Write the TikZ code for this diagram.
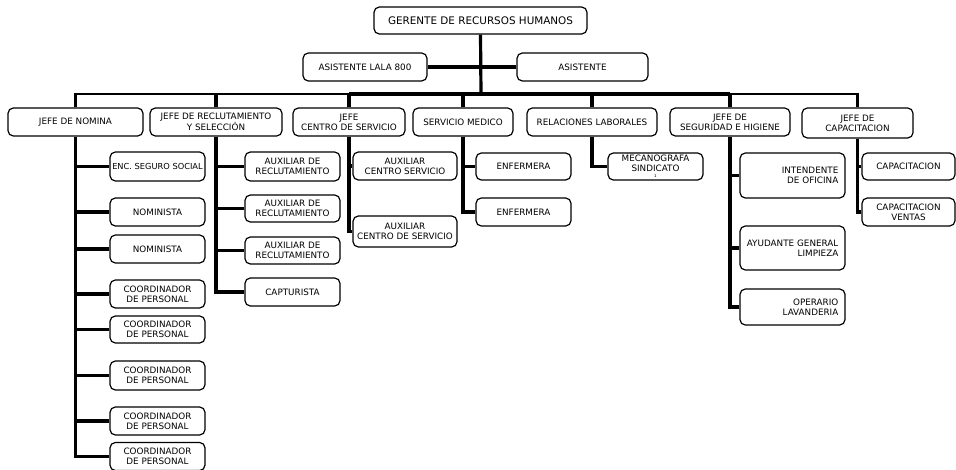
\documentclass[tikz,border=0pt]{standalone}
\usepackage{fontspec}
\setmainfont{DejaVu Sans}

\tikzset{every picture/.style={line width=0.75pt}}
\tikzset{
  org/.style 2 args={draw, rounded corners=4pt, fill=white, line width=0.9pt, align=center, inner sep=1pt,
    minimum width=#1*0.75pt, minimum height=#2*0.75pt, font=\fontsize{6.6}{7.4}\selectfont},
  orgr/.style 2 args={org={#1}{#2}, align=right, text width=#1*0.75pt-10pt},
  wire/.style={line width=2.4pt},
  thinwire/.style={line width=1.6pt}
}

\begin{document}
\begin{tikzpicture}[x=0.75pt,y=0.75pt,yscale=-1,xscale=1]
\useasboundingbox (0,0) rectangle (956,470);

%Top
\node [org={213}{27}, font=\fontsize{7.8}{9}\selectfont] (gerente) at (480.5,20.5) {GERENTE DE RECURSOS HUMANOS};
\node [org={124}{28}] (lala) at (365,67) {ASISTENTE LALA 800};
\node [org={131}{28}] (asis) at (582.5,67) {ASISTENTE};
\coordinate (bus) at (481,94);

%Jefes
\node [org={135}{28}] (nomina) at (75.5,122) {JEFE DE NOMINA};
\node [org={132}{28}] (reclut) at (216,122) {JEFE DE RECLUTAMIENTO\\Y SELECCIÓN};
\node [org={112}{28}] (centro) at (349,122) {JEFE\\CENTRO DE SERVICIO};
\node [org={100}{28}] (medico) at (463,122) {SERVICIO MEDICO};
\node [org={130}{28}] (relac) at (592,122) {RELACIONES LABORALES};
\node [org={120}{28}] (segur) at (730,122) {JEFE DE\\SEGURIDAD E HIGIENE};
\node [org={111}{30}] (capac) at (857.5,123) {JEFE DE\\CAPACITACION};

%Nomina
\node [org={95}{29}, inner sep=0pt, font=\fontsize{6.2}{7}\selectfont] (enc) at (157.5,166.5) {ENC. SEGURO SOCIAL};
\node [org={95}{28}] (nom1) at (157.5,212) {NOMINISTA};
\node [org={95}{28}] (nom2) at (157.5,249) {NOMINISTA};
\node [org={95}{28}] (coord1) at (157.5,294) {COORDINADOR\\DE PERSONAL};
\node [org={95}{27}] (coord2) at (157.5,329.5) {COORDINADOR\\DE PERSONAL};
\node [org={95}{29}] (coord3) at (157.5,375.5) {COORDINADOR\\DE PERSONAL};
\node [org={95}{28}] (coord4) at (157.5,421) {COORDINADOR\\DE PERSONAL};
\node [org={95}{28}] (coord5) at (157.5,456.5) {COORDINADOR\\DE PERSONAL};

%Reclutamiento
\node [org={95}{29}] (aux1) at (292.5,166.5) {AUXILIAR DE\\RECLUTAMIENTO};
\node [org={95}{27}] (aux2) at (292.5,208.5) {AUXILIAR DE\\RECLUTAMIENTO};
\node [org={95}{27}] (aux3) at (292.5,250.5) {AUXILIAR DE\\RECLUTAMIENTO};
\node [org={95}{28}] (capt) at (292.5,292) {CAPTURISTA};

%Centro de servicio
\node [org={104}{28}] (serv1) at (405,166) {AUXILIAR\\CENTRO SERVICIO};
\node [org={104}{31}] (serv2) at (405,231.5) {AUXILIAR\\CENTRO DE SERVICIO};

%Servicio medico
\node [org={95}{27}] (enf1) at (523.5,166.5) {ENFERMERA};
\node [org={95}{28}] (enf2) at (523.5,212) {ENFERMERA};

%Relaciones laborales
\node [org={95}{27}] (meca) at (655.5,166.5) {MECANOGRAFA\\SINDICATO\\[-2.5pt]{\fontsize{3}{3}\selectfont 1}};

%Seguridad
\node [orgr={105}{45}] (inten) at (792.5,175.5) {INTENDENTE\\DE OFICINA};
\node [orgr={105}{44}] (ayud) at (792.5,248) {AYUDANTE GENERAL\\LIMPIEZA};
\node [orgr={105}{36}] (oper) at (792.5,307) {OPERARIO\\LAVANDERIA};

%Capacitacion
\node [org={93}{27}] (cap1) at (908.5,166.5) {CAPACITACION};
\node [org={93}{28}] (cap2) at (908.5,212) {CAPACITACION\\VENTAS};

%Lines top
\draw [wire] (gerente.south) -- (bus);
\draw [wire] (lala.east) -- (asis.west);
\draw [thinwire] (nomina.north) |- (bus);
\draw [thinwire] (bus) -| (capac.north);
\draw [wire] (centro.north |- bus) -- (segur.north |- bus);
\foreach \j in {reclut,centro,medico,relac,segur}
  \draw [wire] (\j.north) -- (\j.north |- bus);

%Lines to children
\draw [wire] (nomina.south) |- (coord5.west);
\foreach \c in {enc,nom1,nom2,coord1,coord2,coord3,coord4}
  \draw [wire] (nomina.south |- \c.west) -- (\c.west);
\draw [wire] (reclut.south) |- (capt.west);
\foreach \c in {aux1,aux2,aux3}
  \draw [wire] (reclut.south |- \c.west) -- (\c.west);
\draw [wire] (centro.south) |- (serv2.west);
\draw [wire] (centro.south |- serv1.west) -- (serv1.west);
\draw [wire] (medico.south) |- (enf2.west);
\draw [wire] (medico.south |- enf1.west) -- (enf1.west);
\draw [wire] (relac.south) |- (meca.west);
\draw [wire] (segur.south) |- (oper.west);
\foreach \c in {inten,ayud}
  \draw [wire] (segur.south |- \c.west) -- (\c.west);
\draw [wire] (capac.south) |- (cap2.west);
\draw [wire] (capac.south |- cap1.west) -- (cap1.west);

\end{tikzpicture}
\end{document}
